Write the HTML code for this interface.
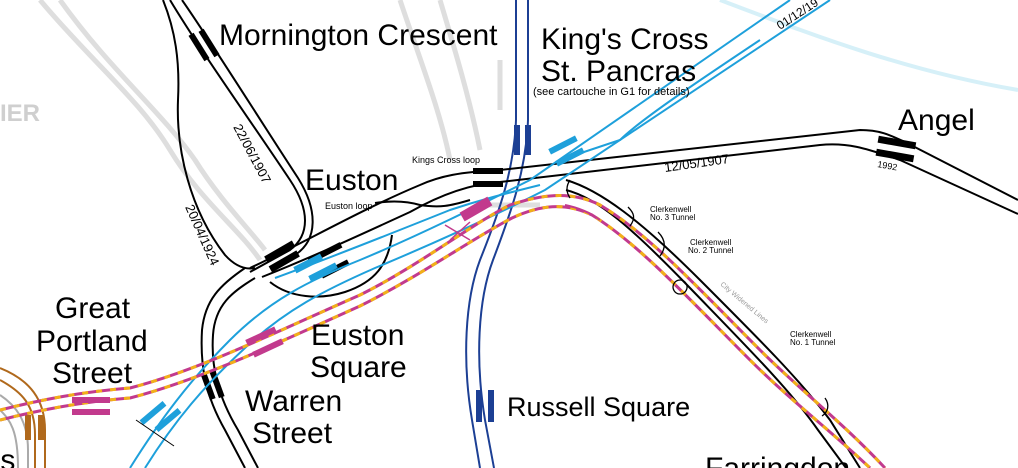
<!DOCTYPE html>
<html><head><meta charset="utf-8"><style>
html,body{margin:0;padding:0;background:#fff;overflow:hidden}
svg{display:block}
text{font-family:"Liberation Sans",sans-serif;fill:#000}
</style></head><body>
<svg width="1018" height="468" viewBox="0 0 1018 468" xmlns="http://www.w3.org/2000/svg">
<g fill="none" stroke="#dedede" stroke-width="5">
<path d="M40 0 C90 60 140 100 170 150 C200 200 240 230 260 260"/>
<path d="M60 0 C110 70 160 110 195 160 C220 200 250 230 265 250"/>
<path d="M400 0 C420 60 440 110 450 160"/>
<path d="M440 0 C455 50 470 100 480 150"/>
<path d="M500 60 L500 110"/>
<path d="M480 205 L540 205"/>
</g>
<path d="M720 0 C800 30 900 70 1018 90" fill="none" stroke="#d6f0f8" stroke-width="4"/>
<text x="0" y="121" font-size="24" font-weight="bold" style="fill:#cfcfcf">IER</text>

<g fill="none" stroke="#b0691c" stroke-width="2">
<path d="M0 368 C30 380 45 400 45 430 L45 468"/>
<path d="M0 380 C22 392 35 405 35 435 L35 468"/>
</g>
<g fill="none" stroke="#aaa" stroke-width="2">
<path d="M0 395 C15 405 28 420 28 450 L28 468"/>
<path d="M0 410 C10 420 18 430 18 468"/>
</g>
<rect x="25" y="415" width="6" height="25" fill="#b0691c"/><rect x="38" y="415" width="6" height="25" fill="#b0691c"/>

<g fill="none" stroke="#1c3f94" stroke-width="2">
<path d="M516 0 L516 120 C514 170 500 210 480 260 C465 300 462 360 472 420 L480 468"/>
<path d="M528 0 L528 120 C526 170 512 210 493 260 C478 300 475 360 485 420 L494 468"/>
</g>
<rect x="514" y="125" width="6" height="30" fill="#1c3f94"/><rect x="525" y="125" width="6" height="30" fill="#1c3f94"/>
<rect x="476" y="390" width="6" height="32" fill="#1c3f94"/><rect x="488" y="390" width="6" height="32" fill="#1c3f94"/>

<g fill="none" stroke="#000" stroke-width="2">
<path d="M163 0 C175 30 180 60 178 100 C176 150 190 210 225 255 C235 266 245 270 255 268"/>
<path d="M170 0 C200 50 250 120 290 180 C310 210 310 235 290 250 L250 272"/>
<path d="M182 0 C210 40 260 120 298 178 C318 210 318 240 295 255"/>
<path d="M250 268 C300 245 360 210 420 185 C440 176 460 172 500 170 L860 130 C880 130 890 135 905 142 L1018 200"/>
<path d="M262 277 C310 258 360 235 410 212 C440 195 470 184 500 182 L820 145 C850 142 870 150 900 160 L1018 214"/>
<path d="M245 268 C220 285 205 300 202 330 C200 365 205 395 225 430 L245 468"/>
<path d="M255 278 C232 292 215 305 213 335 C211 365 217 395 238 430 L258 468"/>
<path d="M270 282 C290 298 320 300 345 292 C375 282 388 265 392 235"/>
<path d="M375 203 C395 200 410 202 420 205 C440 208 450 206 470 200"/>
<path d="M566 180 C600 190 640 220 700 280 C760 340 800 380 830 420 L860 468"/>
<path d="M566 190 C598 198 632 228 690 288 C750 350 790 390 818 430 L846 468"/>
</g>
<g fill="#000">
<rect x="196" y="32" width="6" height="30" transform="rotate(-32 199 47)"/>
<rect x="206" y="28" width="6" height="30" transform="rotate(-32 209 43)"/>
<rect x="276" y="236" width="7" height="32" transform="rotate(60 280 252)"/>
<rect x="281" y="245" width="7" height="32" transform="rotate(60 284 261)"/>
<rect x="322" y="235" width="6" height="36" transform="rotate(63 325 253)"/>
<rect x="332" y="254" width="6" height="30" transform="rotate(63 335 269)"/>
<rect x="205" y="372" width="6" height="28" transform="rotate(-20 208 386)"/>
<rect x="214" y="370" width="6" height="28" transform="rotate(-20 217 384)"/>
<rect x="473" y="168" width="30" height="6"/><rect x="473" y="181" width="30" height="6"/>
<rect x="878" y="139" width="38" height="7" transform="rotate(10 897 142)"/>
<rect x="876" y="152" width="38" height="7" transform="rotate(10 895 155)"/>
</g>

<g fill="none" stroke="#1ea0db" stroke-width="2">
<path d="M130 468 C160 420 190 380 230 340 C270 300 310 280 360 260 C420 235 480 205 530 180 L790 0"/>
<path d="M145 468 C175 420 205 385 245 348 C285 310 325 290 375 268 C430 245 490 218 545 190 L830 0"/>
<path d="M275 278 C330 258 400 230 450 210 C480 200 500 195 540 185"/>
<path d="M560 160 L620 140 C640 120 700 80 760 40"/>
</g>
<g fill="#1ea0db">
<rect x="150" y="398" width="6" height="30" transform="rotate(50 153 413)"/>
<rect x="165" y="405" width="6" height="30" transform="rotate(50 168 420)"/>
<rect x="305" y="248" width="7" height="30" transform="rotate(63 308 263)"/>
<rect x="320" y="257" width="6" height="30" transform="rotate(63 323 272)"/>
<rect x="560" y="130" width="6" height="30" transform="rotate(63 563 145)"/>
<rect x="567" y="142" width="6" height="30" transform="rotate(63 570 157)"/>
</g>
<line x1="136" y1="420" x2="174" y2="446" stroke="#000" stroke-width="1"/>

<g fill="none" stroke-width="3">
<path d="M0 410 C40 400 80 392 130 388 C200 370 280 330 360 295 C420 265 470 225 510 205 C540 195 570 190 600 205 C650 235 700 290 760 350 C800 390 840 420 885 468" stroke="#c23a8d"/>
<path d="M0 410 C40 400 80 392 130 388 C200 370 280 330 360 295 C420 265 470 225 510 205 C540 195 570 190 600 205 C650 235 700 290 760 350 C800 390 840 420 885 468" stroke="#f2b018" stroke-dasharray="6 8"/>
<path d="M0 420 C40 410 80 402 130 398 C200 380 280 342 360 306 C420 276 470 240 512 218 C540 205 565 202 592 215 C640 245 690 300 750 360 C790 400 830 430 870 468" stroke="#c23a8d"/>
<path d="M0 420 C40 410 80 402 130 398 C200 380 280 342 360 306 C420 276 470 240 512 218 C540 205 565 202 592 215 C640 245 690 300 750 360 C790 400 830 430 870 468" stroke="#f2b018" stroke-dasharray="6 8"/>
<path d="M445 225 L470 240 M450 240 L470 222" stroke="#c23a8d" stroke-width="1.5"/>
<path d="M565 205 C580 208 592 214 600 220" stroke="#c23a8d" stroke-width="2"/>
</g>
<g>
<rect x="72" y="397" width="38" height="6" fill="#c23a8d"/><rect x="72" y="409" width="38" height="6" fill="#c23a8d"/>
<rect x="245" y="333" width="32" height="6" fill="#c23a8d" transform="rotate(-25 261 336)"/>
<rect x="252" y="345" width="32" height="6" fill="#c23a8d" transform="rotate(-25 268 348)"/>
<rect x="460" y="204" width="32" height="10" fill="#c23a8d" transform="rotate(-30 476 209)"/>
</g>

<g fill="none" stroke="#000" stroke-width="1.3">
<path d="M628 207 C634 213 636 218 630 226"/><path d="M658 232 C666 240 666 248 660 256"/>
<path d="M680 280 a7 7 0 1 0 0.1 0"/><path d="M825 398 C830 405 828 412 822 416"/>
<path d="M570 180 C566 186 566 192 570 198"/>
</g>

<text x="219" y="45" font-size="30">Mornington Crescent</text>
<text x="541" y="49" font-size="30">King's Cross</text>
<text x="541" y="81" font-size="30">St. Pancras</text>
<text x="533" y="95" font-size="11">(see cartouche in G1 for details)</text>
<text x="898" y="130" font-size="30">Angel</text>
<text x="305" y="190" font-size="30">Euston</text>
<text x="55" y="318" font-size="30">Great</text>
<text x="36" y="351" font-size="30">Portland</text>
<text x="52" y="383" font-size="30">Street</text>
<text x="311" y="345" font-size="30">Euston</text>
<text x="310" y="377" font-size="30">Square</text>
<text x="245" y="411" font-size="30">Warren</text>
<text x="252" y="443" font-size="30">Street</text>
<text x="507" y="416" font-size="27">Russell Square</text>
<text x="705" y="478" font-size="30">Farringdon</text>
<text x="-8" y="470" font-size="30">ts</text>
<text x="412" y="163" font-size="9">Kings Cross loop</text>
<text x="325" y="209" font-size="9">Euston loop</text>
<text x="650" y="212" font-size="8">Clerkenwell</text><text x="650" y="220" font-size="8">No. 3 Tunnel</text>
<text x="690" y="245" font-size="8">Clerkenwell</text><text x="688" y="253" font-size="8">No. 2 Tunnel</text>
<text x="790" y="337" font-size="8">Clerkenwell</text><text x="790" y="345" font-size="8">No. 1 Tunnel</text>
<text x="877" y="167" font-size="9" transform="rotate(10 877 167)">1992</text>
<text x="665" y="172" font-size="13" transform="rotate(-8 665 172)">12/05/1907</text>
<text x="780" y="30" font-size="12" transform="rotate(-33 780 30)">01/12/19</text>
<text x="233" y="127" font-size="13" transform="rotate(62 233 127)">22/06/1907</text>
<text x="185" y="207" font-size="13" transform="rotate(66 185 207)">20/04/1924</text>
<text x="720" y="285" font-size="7" transform="rotate(40 720 285)" style="fill:#999">City Widened Lines</text>
</svg>
</body></html>
